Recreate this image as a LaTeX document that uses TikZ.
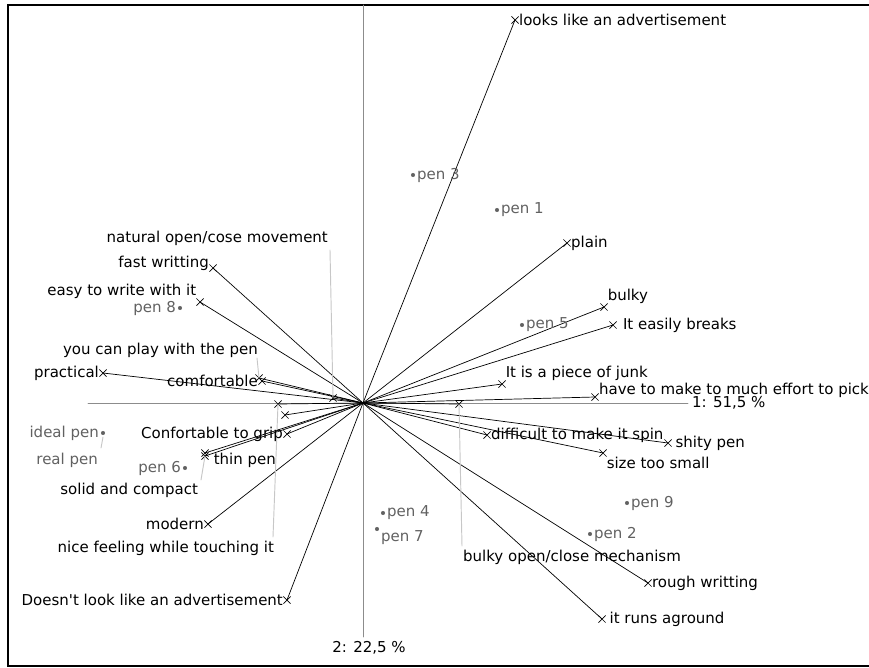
\documentclass[tikz,border=0pt]{standalone}
\RequirePackage{fontspec}
\setmainfont{DejaVu Sans}[Ligatures=TeXOff]
\RequirePackage{tikz}
\RequirePackage{tkz-euclide}
\usetikzlibrary{shapes.misc}

\definecolor{axisgray}{gray}{0.55}
\definecolor{leadgray}{gray}{0.78}
\definecolor{pengray}{gray}{0.38}

\tikzset{
  varmark/.style={cross out,draw,inner sep=0pt,minimum size=5.5pt,line width=0.6pt},
  pendot/.style={circle,fill=pengray,inner sep=0pt,minimum size=3.5pt},
  pentext/.style={text=pengray}
}

\begin{document}
\begin{tikzpicture}[x=0.3mm,y=-0.3mm,font=\fontsize{12.8}{15}\selectfont]
                \useasboundingbox (0,0) rectangle (869,668);
                \clip (0,0) rectangle (869,668);
                \draw[line width=2pt] (8,5) -- (900,5);
                \draw[line width=2pt] (8,666) -- (900,666);
                \draw[line width=2pt] (8,4) -- (8,667);

                % axes
                \tkzDefPoint(363,403){O}
                \tkzDefPoint(88,403){XA}
                \tkzDefPoint(688,403){XB}
                \tkzDefPoint(363,5){YA}
                \tkzDefPoint(363,637){YB}
                \tkzDefShiftPoint[YB](6,0){YC}

                \tkzDrawSegment[axisgray,line width=0.8pt](XA,XB)
                \tkzDrawSegment[axisgray,line width=0.8pt](YA,YB)

                \node[right] (ax1) at (XB) {1: 51,5 \%};
                \node[below] (ax2) at (YC) {2: 22,5 \%};

                % variables
                \tkzDefPoint(515,20){looks}
                \tkzDefPoint(567,243){plain}
                \tkzDefPoint(604,307){bulky}
                \tkzDefPoint(613,325){breaks}
                \tkzDefPoint(502,384){junk}
                \tkzDefPoint(595,397){effort}
                \tkzDefPoint(487,435){spin}
                \tkzDefPoint(668,443){shity}
                \tkzDefPoint(603,453){small}
                \tkzDefPoint(648,583){rough}
                \tkzDefPoint(602,619){aground}
                \tkzDefPoint(459,404){mech}
                \tkzDefPoint(213,268){fast}
                \tkzDefPoint(200,302){easy}
                \tkzDefPoint(103,373){practical}
                \tkzDefPoint(262,381){comf}
                \tkzDefPoint(259,378){play}
                \tkzDefPoint(287,434){grip}
                \tkzDefPoint(205,453){thin}
                \tkzDefPoint(205,456){solid}
                \tkzDefPoint(208,524){modern}
                \tkzDefPoint(287,600){doesnt}
                \tkzDefPoint(333,398){natural}
                \tkzDefPoint(278,404){nice}
                \tkzDefPoint(285,415){other}

                \foreach \v in {looks,plain,bulky,breaks,junk,effort,spin,shity,small,rough,aground,mech,
                  fast,easy,practical,comf,play,grip,thin,solid,modern,doesnt,natural,nice,other}{
                  \tkzDrawSegment[line width=0.6pt](O,\v)
                  \node[varmark] (m\v) at (\v) {};
                }

                % leaders to labels
                \tkzDefPoint(330,250){naturalb}
                \tkzDefPoint(257,358){playb}
                \tkzDefPoint(273,537){niceb}
                \tkzDefPoint(201,480){solidb}
                \tkzDefPoint(462,546){mechb}
                \tkzDefPoint(101,448){realb}
                \tkzDefPoint(103,437){real}

                \tkzDrawSegment[leadgray,line width=0.8pt](naturalb,natural)
                \tkzDrawSegment[leadgray,line width=0.8pt](playb,play)
                \tkzDrawSegment[leadgray,line width=0.8pt](niceb,nice)
                \tkzDrawSegment[leadgray,line width=0.8pt](solidb,solid)
                \tkzDrawSegment[leadgray,line width=0.8pt](mechb,mech)
                \tkzDrawSegment[leadgray,line width=0.8pt](realb,real)

                \tkzDefPoint(332,238){naturall}
                \tkzDefPoint(262,350){playl}
                \tkzDefPoint(278,548){nicel}
                \tkzDefPoint(202,490){solidl}
                \tkzDefPoint(459,557){mechl}
                \tkzDefPoint(102,460){reall}

                \node[right] (tlooks) at (looks) {looks like an advertisement};
                \node[right] (tplain) at (plain) {plain};
                \node[above right,inner sep=3pt] (tbulky) at (bulky) {bulky};
                \node[right,xshift=5pt] (tbreaks) at (breaks) {It easily breaks};
                \node[above right,inner sep=3pt] (tjunk) at (junk) {It is a piece of junk};
                \node[right,yshift=6pt] (teffort) at (effort) {have to make to much effort to pick};
                \node[right] (tspin) at (spin) {difficult to make it spin};
                \node[right,xshift=3pt] (tshity) at (shity) {shity pen};
                \node[below right,inner sep=3pt] (tsmall) at (small) {size too small};
                \node[right] (trough) at (rough) {rough writting};
                \node[right,xshift=3pt] (taground) at (aground) {it runs aground};
                \node[right] (tmech) at (mechl) {bulky open/close mechanism};
                \node[left,yshift=4pt] (tfast) at (fast) {fast writting};
                \node[above left,inner sep=3pt] (teasy) at (easy) {easy to write with it};
                \node[left] (tpractical) at (practical) {practical};
                \node[left] (tcomf) at (comf) {comfortable};
                \node[left] (tgrip) at (grip) {Confortable to grip};
                \node[right,xshift=4pt,yshift=-6pt] (tthin) at (thin) {thin pen};
                \node[left] (tmodern) at (modern) {modern};
                \node[left] (tdoesnt) at (doesnt) {Doesn't look like an advertisement};
                \node[left] (tnatural) at (naturall) {natural open/cose movement};
                \node[left] (tplay) at (playl) {you can play with the pen};
                \node[left] (tnice) at (nicel) {nice feeling while touching it};
                \node[left] (tsolid) at (solidl) {solid and compact};

                % pens
                \tkzDefPoint(413,175){p3}
                \tkzDefPoint(497,210){p1}
                \tkzDefPoint(522,325){p5}
                \tkzDefPoint(180,308){p8}
                \tkzDefPoint(103,433){ideal}
                \tkzDefPoint(185,468){p6}
                \tkzDefPoint(383,513){p4}
                \tkzDefPoint(377,529){p7}
                \tkzDefPoint(627,503){p9}
                \tkzDefPoint(590,534){p2}

                \foreach \p in {p3,p1,p5,p8,ideal,p6,p4,p7,p9,p2}{
                  \node[pendot] (d\p) at (\p) {};
                }

                \node[pentext,right] (tp3) at (p3) {pen 3};
                \node[pentext,right] (tp1) at (p1) {pen 1};
                \node[pentext,right] (tp5) at (p5) {pen 5};
                \node[pentext,left] (tp8) at (p8) {pen 8};
                \node[pentext,left] (tideal) at (ideal) {ideal pen};
                \node[pentext,left] (treal) at (reall) {real pen};
                \node[pentext,left] (tp6) at (p6) {pen 6};
                \node[pentext,right] (tp4) at (p4) {pen 4};
                \node[pentext,right,yshift=-7pt] (tp7) at (p7) {pen 7};
                \node[pentext,right] (tp9) at (p9) {pen 9};
                \node[pentext,right] (tp2) at (p2) {pen 2};
            \end{tikzpicture}
\end{document}
